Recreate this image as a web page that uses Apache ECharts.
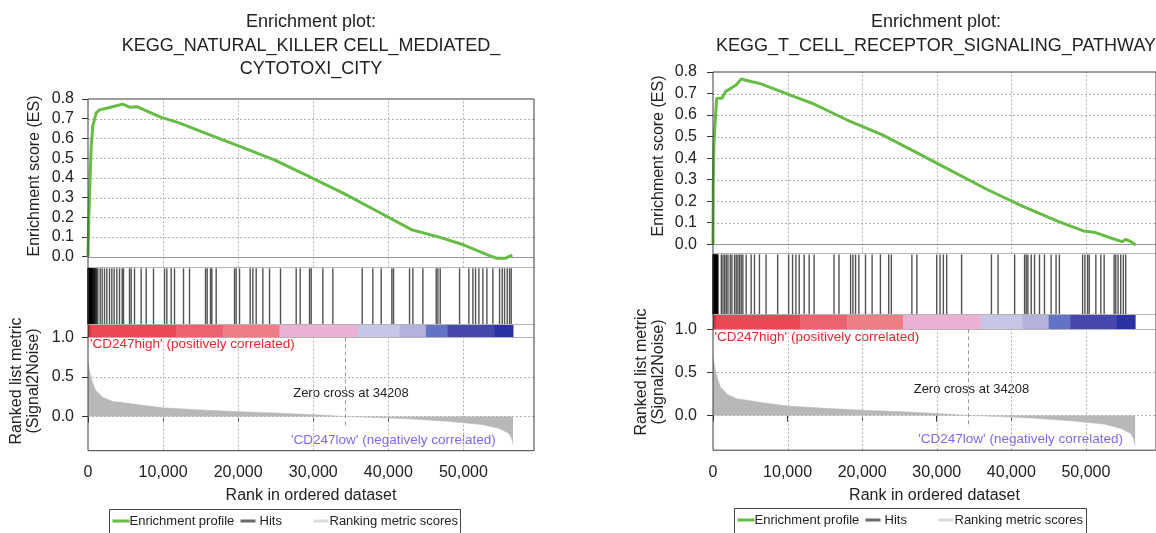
<!DOCTYPE html>
<html>
<head>
<meta charset="utf-8">
<title>GSEA enrichment plots</title>
<script src="https://cdn.jsdelivr.net/npm/echarts@6/dist/echarts.min.js"></script>
<style>
  html, body { margin: 0; padding: 0; background: #fff; }
  #chart { width: 1156px; height: 533px; }
</style>
</head>
<body>
<div id="chart"></div>
<script>
// ---------- values ----------
// ranked list metric (same ranked list in both panels)
const metricRank = [0, 200, 600, 1000, 2000, 3300, 4400, 6500, 10000, 15700, 20300, 25000, 29500, 32200, 34208, 36000, 38600, 43200, 47800, 52400, 54700, 56000, 56400, 56600];
const metricValue = [0.69, 0.57, 0.43, 0.33, 0.24, 0.19, 0.18, 0.15, 0.11, 0.08, 0.06, 0.045, 0.025, 0.012, 0, -0.005, -0.013, -0.033, -0.06, -0.10, -0.15, -0.21, -0.27, -0.35];
const zeroCross = 34208;

// enrichment score, NK cell mediated cytotoxicity
const nkRank = [0, 107, 290, 426, 640, 1090, 1530, 2860, 4630, 5630, 6550, 7470, 9760, 12050, 15710, 20300, 24890, 29470, 34050, 38640, 43220, 46880, 50090, 53300, 54450, 55600, 56510];
const nkScore = [0, 0.187, 0.408, 0.56, 0.663, 0.73, 0.745, 0.757, 0.774, 0.758, 0.761, 0.745, 0.707, 0.68, 0.626, 0.558, 0.49, 0.406, 0.321, 0.228, 0.135, 0.098, 0.059, 0.008, -0.008, -0.008, 0.008];
const nkHits = [0, 20, 45, 70, 95, 120, 150, 180, 210, 240, 270, 300, 340, 380, 420, 460, 500, 550, 600, 650, 720, 800, 866, 950, 1050, 1150, 1310, 1621, 1887, 2198, 2509, 2864, 3175, 3486, 3841, 4196, 4551, 4729, 5528, 5750, 6194, 7082, 7748, 8725, 10190, 10501, 11078, 11522, 12721, 13520, 15651, 15873, 16317, 16495, 17072, 19514, 19736, 20180, 21601, 21956, 22400, 23288, 24176, 25641, 27728, 28261, 29504, 29726, 31280, 32612, 36519, 37940, 39050, 40471, 40693, 42824, 43268, 44600, 46376, 46598, 46909, 49484, 50727, 51260, 51615, 52059, 52592, 53125, 53924, 54812, 55167, 55478, 55833, 56144, 56366];

// enrichment score, T cell receptor signaling
const tcrRank = [0, 30, 120, 250, 490, 730, 1200, 1680, 2390, 3100, 3800, 4280, 5230, 6170, 8530, 10890, 13270, 17990, 22720, 27440, 32170, 36890, 41630, 46360, 49670, 51090, 53450, 54870, 55340, 56050, 56670];
const tcrScore = [0, 0.268, 0.454, 0.546, 0.678, 0.686, 0.678, 0.709, 0.724, 0.74, 0.768, 0.763, 0.755, 0.748, 0.717, 0.686, 0.655, 0.577, 0.508, 0.423, 0.337, 0.252, 0.175, 0.105, 0.062, 0.056, 0.028, 0.012, 0.023, 0.012, -0.003];
const tcrHits = [0, 25, 50, 80, 110, 140, 170, 200, 240, 280, 320, 360, 400, 450, 500, 560, 620, 670, 1116, 1338, 1560, 1782, 2004, 2315, 2538, 2893, 3115, 3338, 3560, 3782, 4004, 4449, 5115, 5560, 6226, 7115, 8671, 10137, 10670, 11115, 11559, 12226, 12892, 13559, 16225, 16892, 18447, 18758, 19114, 19558, 20447, 21336, 22447, 23558, 23913, 26668, 27335, 30000, 30445, 30889, 31334, 33334, 37333, 38223, 40445, 41778, 42000, 42222, 42667, 43111, 43778, 44445, 45334, 46000, 46445, 49556, 49867, 50222, 50445, 51334, 52000, 52445, 53778, 54000, 54311, 54667, 55022, 55333];

// heat bar segments along the ranked list
const barStart = [0, 150, 400, 11700, 18000, 25500, 35900, 41500, 45000, 47900, 54150];
const barEnd = [150, 400, 11700, 18000, 25500, 35900, 41500, 45000, 47900, 54150, 56600];
const barColors = ['#9a1e24', '#d3343d', '#ea4852', '#eb6270', '#ef7d86', '#ebb1d4', '#c6c6e6', '#b2b2dc', '#6272c4', '#4548aa', '#2b31a0'];

// tick labels
const xTicks = [0, 10000, 20000, 30000, 40000, 50000];
const esTicks = [0, 0.1, 0.2, 0.3, 0.4, 0.5, 0.6, 0.7, 0.8];
const metricTicks = [0, 0.5, 1.0];

const titles = [
  ['Enrichment plot:', 'KEGG_NATURAL_KILLER CELL_MEDIATED_', 'CYTOTOXI_CITY'],
  ['Enrichment plot:', 'KEGG_T_CELL_RECEPTOR_SIGNALING_PATHWAY']
];

// ---------- layout ----------
const FONT = '"Liberation Sans", Arial, Helvetica, sans-serif';
const GREEN = '#66bc45';
const XMAX = 59400;
const layout = [
  { left: 88, width: 446, esTop: 99, hitTop: 267.3, barTop: 324.3, metricTop: 337.3, bottom: 450.7, esMin: -0.054, metricMin: -0.432, margin: 14,
    yName1: [35, 176], yName2: [25.5, 381], zeroText: [351, 393], highText: [90, 344.3], lowText: [495.7, 440], legend: [109.5, 509.5, 351] },
  { left: 713, width: 446, esTop: 72, hitTop: 253.3, barTop: 314.3, metricTop: 329.3, bottom: 450.2, esMin: -0.042, metricMin: -0.403, margin: 16,
    yName1: [658.5, 156], yName2: [650, 372], zeroText: [971.5, 389], highText: [714.5, 337.7], lowText: [1123, 439], legend: [734.5, 508.5, 352] }
];
const panels = [
  { rank: nkRank, score: nkScore, hits: nkHits },
  { rank: tcrRank, score: tcrScore, hits: tcrHits }
];

const zip = (a, b) => a.map((v, i) => [v, b[i]]);
const crisp = v => Math.round(v) + 0.5;
const txt = (x, y, text, size, extra) => ({
  type: 'text', x: x, y: y, silent: true,
  style: Object.assign({ text: text, fontSize: size, fontFamily: FONT, fill: '#222', textAlign: 'center', textVerticalAlign: 'middle' }, extra || {})
});
const dotted = { stroke: '#b3b3b3', lineWidth: 1, lineDash: [2, 2] };

// reference lines through one grid; span is the range covered on the other axis
function guides(idx, values, dir, span, style, z) {
  return {
    type: 'custom', xAxisIndex: idx, yAxisIndex: idx, z: z, silent: true, clip: false,
    data: values.map(v => [v, v]),
    renderItem: (params, api) => {
      const v = api.value(0);
      let shape;
      if (dir === 'h') {
        const a = api.coord([span[0], v]);
        const b = api.coord([span[1], v]);
        const y = crisp(a[1]);
        shape = { x1: a[0], y1: y, x2: b[0], y2: y };
      } else {
        const a = api.coord([v, span[0]]);
        const b = api.coord([v, span[1]]);
        const x = crisp(a[0]);
        shape = { x1: x, y1: a[1], x2: x, y2: b[1] };
      }
      return { type: 'line', shape: shape, style: style };
    }
  };
}

const option = { animation: false, backgroundColor: '#fff', grid: [], xAxis: [], yAxis: [], series: [], graphic: [] };

panels.forEach((d, p) => {
  const L = layout[p];
  const g = p * 4;
  const barFrac = (L.metricTop - L.barTop) / (L.metricTop - L.hitTop);
  const labelStyle = { fontSize: 16, color: '#222', fontFamily: FONT };
  const inner = xTicks.filter(v => v > 0);
  const fullX = [0, XMAX];

  option.grid.push(
    { left: L.left, width: L.width, top: L.esTop, height: L.hitTop - L.esTop },
    { left: L.left, width: L.width, top: L.hitTop, height: L.metricTop - L.hitTop },
    { left: L.left, width: L.width, top: L.metricTop, height: L.bottom - L.metricTop },
    { left: L.left, width: L.width, top: L.esTop, height: L.bottom - L.esTop, show: true, borderColor: '#3c3c3c', borderWidth: 1, backgroundColor: 'transparent', z: 6 }
  );

  const xBase = { type: 'value', min: 0, max: XMAX };
  option.xAxis.push(
    Object.assign({ gridIndex: g, show: false }, xBase),
    Object.assign({ gridIndex: g + 1, show: false }, xBase),
    Object.assign({
      gridIndex: g + 2, axisLine: { show: false },
      axisTick: { show: true, length: 6, customValues: xTicks, lineStyle: { color: '#333' } },
      axisLabel: Object.assign({ margin: 14, customValues: xTicks, formatter: v => v.toLocaleString('en-US') }, labelStyle),
      splitLine: { show: false },
      name: 'Rank in ordered dataset', nameLocation: 'middle', nameGap: 37, nameTextStyle: labelStyle
    }, xBase),
    { type: 'value', gridIndex: g + 3, show: false, min: 0, max: 1 }
  );

  option.yAxis.push(
    { type: 'value', gridIndex: g, min: L.esMin, max: 0.8, axisLine: { show: false }, splitLine: { show: false },
      axisTick: { show: true, length: 6, customValues: esTicks, lineStyle: { color: '#333' } },
      axisLabel: Object.assign({ customValues: esTicks, margin: L.margin, formatter: v => v.toFixed(1) }, labelStyle) },
    { type: 'value', gridIndex: g + 1, min: 0, max: 1, show: false },
    { type: 'value', gridIndex: g + 2, min: L.metricMin, max: 1, axisLine: { show: false }, splitLine: { show: false },
      axisTick: { show: true, length: 6, customValues: metricTicks, lineStyle: { color: '#333' } },
      axisLabel: Object.assign({ customValues: metricTicks, margin: L.margin, formatter: v => v.toFixed(1) }, labelStyle) },
    { type: 'value', gridIndex: g + 3, min: 0, max: 1, show: false }
  );

  option.series.push(
    // ES panel guides
    guides(g, esTicks.filter(v => v > 0 && v < 0.8), 'h', fullX, dotted, 1),
    guides(g, inner, 'v', [L.esMin, 0.8], dotted, 1),
    guides(g, [0], 'h', fullX, { stroke: '#999', lineWidth: 1 }, 2),
    // running enrichment score
    { name: 'Enrichment profile', type: 'line', xAxisIndex: g, yAxisIndex: g, data: zip(d.rank, d.score),
      showSymbol: false, z: 4, lineStyle: { color: GREEN, width: 3 }, itemStyle: { color: GREEN } },
    // heat bar
    { type: 'custom', xAxisIndex: g + 1, yAxisIndex: g + 1, z: 2, silent: true,
      data: barStart.map((s, i) => [s, barEnd[i], i]),
      renderItem: (params, api) => {
        const a = api.coord([api.value(0), barFrac]);
        const b = api.coord([api.value(1), 0]);
        return { type: 'rect', shape: { x: a[0], y: a[1], width: b[0] - a[0] + 0.5, height: b[1] - a[1] },
          style: { fill: barColors[api.value(2)] } };
      } },
    guides(g + 1, [1, barFrac, 0], 'h', fullX, { stroke: '#b4b4b4', lineWidth: 1 }, 4),
    // gene set hits
    { name: 'Hits', type: 'custom', xAxisIndex: g + 1, yAxisIndex: g + 1, z: 3, silent: true,
      data: d.hits.map(r => [r, 0]),
      renderItem: (params, api) => {
        const top = api.coord([api.value(0), 0.985]);
        const bot = api.coord([api.value(0), barFrac]);
        return { type: 'line', shape: { x1: top[0], y1: top[1], x2: bot[0], y2: bot[1] },
          style: { stroke: 'rgba(0,0,0,0.68)', lineWidth: 1.4 } };
      } },
    // metric panel guides
    guides(g + 2, [0.5, 0], 'h', fullX, dotted, 1),
    guides(g + 2, inner, 'v', [L.metricMin, 1], dotted, 1),
    // ranked list metric
    { name: 'Ranking metric scores', type: 'line', xAxisIndex: g + 2, yAxisIndex: g + 2, data: zip(metricRank, metricValue),
      showSymbol: false, z: 3, lineStyle: { color: '#b8b8b8', width: 0.5 }, itemStyle: { color: '#b8b8b8' },
      areaStyle: { color: '#b8b8b8', opacity: 1 } },
    guides(g + 2, [zeroCross], 'v', [1, -0.14], { stroke: '#9a9a9a', lineWidth: 1, lineDash: [4, 3] }, 4)
  );

  // titles and labels
  const cx = L.left + L.width / 2;
  titles[p].forEach((t, i) => option.graphic.push(txt(cx, 22 + i * 23.6, t, 18)));
  option.graphic.push(
    Object.assign(txt(L.yName1[0], L.yName1[1], 'Enrichment score (ES)', 16), { rotation: Math.PI / 2 }),
    Object.assign(txt(L.yName2[0], L.yName2[1], 'Ranked list metric\n(Signal2Noise)', 16, { lineHeight: 17 }), { rotation: Math.PI / 2 }),
    txt(L.zeroText[0], L.zeroText[1], 'Zero cross at ' + zeroCross, 13),
    txt(L.highText[0], L.highText[1], "'CD247high' (positively correlated)", 13.5, { textAlign: 'left', fill: '#e8262e' }),
    txt(L.lowText[0], L.lowText[1], "'CD247low' (negatively correlated)", 13.5, { textAlign: 'right', fill: '#7a6cf0' })
  );

  // legend box
  const [lx, ly, lw] = L.legend;
  const ty = ly + 11.5;
  option.graphic.push(
    { type: 'rect', silent: true, shape: { x: lx, y: ly, width: lw, height: 40 }, style: { fill: 'none', stroke: '#444', lineWidth: 1 } },
    { type: 'line', silent: true, shape: { x1: lx + 3, y1: ty, x2: lx + 20, y2: ty }, style: { stroke: GREEN, lineWidth: 3 } },
    txt(lx + 20, ty, 'Enrichment profile', 13, { textAlign: 'left' }),
    { type: 'line', silent: true, shape: { x1: lx + 131, y1: ty, x2: lx + 146, y2: ty }, style: { stroke: '#6a6a6a', lineWidth: 3 } },
    txt(lx + 150, ty, 'Hits', 13, { textAlign: 'left' }),
    { type: 'line', silent: true, shape: { x1: lx + 204, y1: ty, x2: lx + 219, y2: ty }, style: { stroke: '#dcdcdc', lineWidth: 3 } },
    txt(lx + 220, ty, 'Ranking metric scores', 13, { textAlign: 'left' })
  );
});

const chart = echarts.init(document.getElementById('chart'), null, { renderer: 'canvas' });
chart.setOption(option);
</script>
</body>
</html>
